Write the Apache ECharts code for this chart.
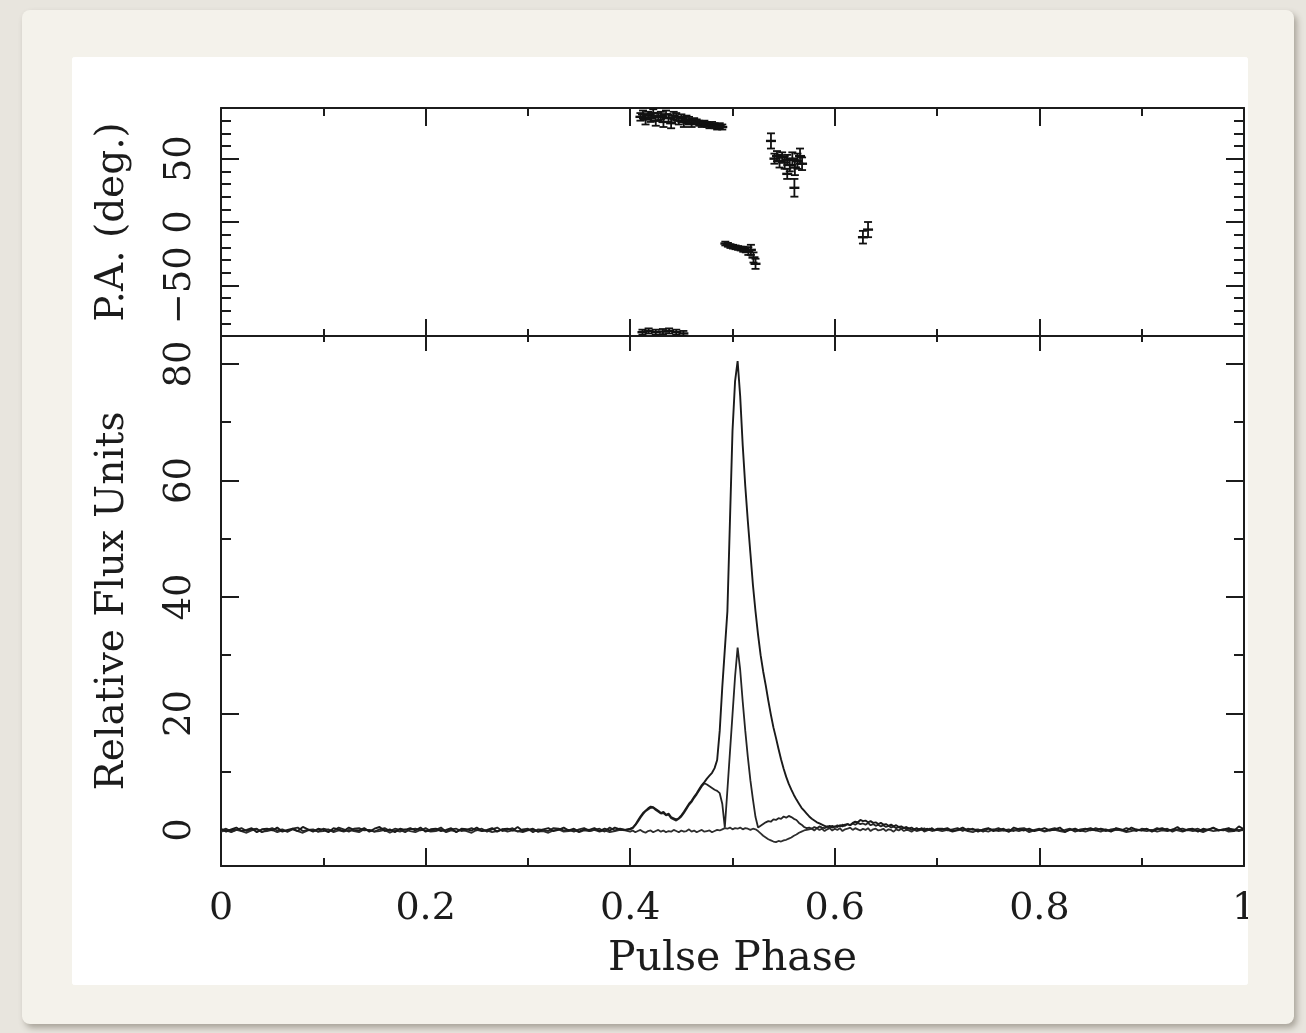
<!DOCTYPE html>
<html>
<head>
<meta charset="utf-8">
<script src="https://cdn.jsdelivr.net/npm/echarts@6/dist/echarts.min.js"></script>
<style>
  html, body { margin: 0; padding: 0; width: 1306px; height: 1033px; overflow: hidden; background: #e8e5de; }
  #card { position: absolute; left: 22px; top: 10px; width: 1272px; height: 1014px; background: #f4f2eb;
          border-radius: 8px; box-shadow: 3px 4px 6px rgba(90,85,70,0.45); }
  #panel { position: absolute; left: 72px; top: 57px; width: 1176px; height: 928px; background: #ffffff;
           border-radius: 3px; overflow: hidden; }
  #chart { width: 1176px; height: 928px; }
</style>
</head>
<body>
<div id="card"></div>
<div id="panel"><div id="chart"></div></div>
<script>
// ---------------- DATA ----------------
// Phase bins: off-pulse 0.000-0.395 (step 0.005), on-pulse 0.400-0.700 (step 0.0025), off-pulse 0.705-1.000 (step 0.005)
const xTickValues = [0, 0.2, 0.4, 0.6, 0.8, 1];
const paTicks = [-50, 0, 50];
const fluxTicks = [0, 20, 40, 60, 80];

// Total intensity (I)
const I_off1 = [0.2,-0.3,0.1,0.4,-0.2,0.0,0.3,-0.4,0.1,0.2,
  -0.1,0.4,-0.3,0.0,0.2,-0.2,0.5,0.1,-0.3,0.2,
  0.0,-0.4,0.3,0.1,-0.2,0.4,0.0,-0.1,0.3,-0.3,
  0.2,0.5,-0.2,0.1,-0.4,0.2,0.0,0.3,-0.1,0.4,
  -0.3,0.1,0.2,-0.2,0.0,0.3,-0.4,0.2,0.1,-0.1,
  0.4,-0.2,0.0,0.3,-0.3,0.1,0.2,-0.1,0.5,-0.2,
  0.0,0.2,-0.3,0.1,0.3,-0.2,0.0,0.4,-0.1,0.2,
  -0.3,0.1,0.0,0.3,-0.2,0.2,-0.1,0.4,0.1,0.0];
const I_on = [0.2,0.4,0.9,1.6,2.3,2.9,3.3,3.7,4.0,3.9,
  3.6,3.3,2.9,3.1,2.6,2.8,2.2,2.0,1.8,2.0,
  2.5,3.1,3.8,4.5,5.0,5.7,6.3,7.0,7.7,8.2,
  8.8,9.3,9.8,10.6,12.0,17.0,24.5,31.0,37.5,53.0,
  68.5,77.0,80.5,74.5,66.0,59.0,53.0,47.5,42.0,37.5,
  33.5,30.0,27.2,24.8,22.2,19.8,17.6,15.8,13.9,12.1,
  10.5,9.1,7.9,6.9,6.0,5.2,4.5,3.8,3.3,2.8,
  2.3,1.9,1.6,1.3,1.1,0.9,0.7,0.5,0.7,0.4,
  0.6,0.5,0.8,0.6,0.9,1.0,0.8,1.2,1.4,1.3,
  1.7,1.5,1.6,1.3,1.5,1.2,1.3,1.0,1.2,0.9,
  1.0,0.7,0.9,0.6,0.8,0.5,0.6,0.3,0.5,0.2,
  0.4,0.1,0.3,0.0,0.3,-0.1,0.2,0.0,0.3,-0.1,
  0.1];
const I_off2 = [0.1,0.3,-0.2,0.0,0.4,-0.1,0.2,-0.3,0.1,0.3,
  -0.2,0.0,0.2,-0.3,0.4,0.1,-0.1,0.2,-0.2,0.0,
  0.3,-0.1,0.1,0.4,-0.3,0.0,0.2,-0.2,0.1,0.3,
  -0.1,0.2,0.0,-0.3,0.3,0.1,-0.2,0.4,0.0,-0.1,
  0.2,-0.3,0.1,0.3,-0.1,0.0,0.5,-0.2,0.1,0.2,
  -0.3,0.2,0.0,0.4,-0.1,0.1,0.3,-0.2,0.6,0.1];

// Linear polarisation (L)
const L_off1 = [-0.1,0.2,-0.3,0.0,0.3,-0.2,0.1,0.2,-0.4,0.0,
  0.3,-0.1,0.1,-0.3,0.2,0.4,-0.2,0.0,0.1,-0.3,
  0.2,0.0,-0.2,0.4,0.1,-0.3,0.2,0.3,-0.1,0.0,
  -0.3,0.1,0.3,-0.2,0.2,0.0,-0.4,0.1,0.2,-0.1,
  0.3,-0.2,0.0,0.4,-0.3,0.1,0.2,-0.2,0.0,0.3,
  -0.1,0.2,-0.3,0.1,0.4,-0.2,0.0,0.3,-0.3,0.1,
  0.2,-0.4,0.1,0.0,-0.2,0.3,0.2,-0.1,0.0,-0.3,
  0.1,0.3,-0.2,0.0,0.2,-0.3,0.4,-0.1,0.2,0.0];
const L_on = [0.1,0.3,0.8,1.4,2.1,2.7,3.2,3.5,3.8,3.8,
  3.4,3.1,2.8,2.9,2.5,2.6,2.0,1.8,1.6,1.9,
  2.3,2.9,3.6,4.3,4.8,5.5,6.1,6.8,7.5,8.0,
  7.8,7.5,7.2,6.9,6.7,6.3,4.5,0.4,6.8,13.3,
  19.8,26.3,31.3,27.5,22.0,17.0,12.5,8.5,5.2,2.2,
  0.4,0.7,1.0,1.3,1.5,1.4,1.8,1.7,2.0,1.9,
  2.3,2.1,2.4,2.2,1.9,1.7,1.2,0.9,0.5,0.3,
  0.4,0.2,0.5,0.3,0.6,0.4,0.3,0.6,0.4,0.7,
  0.5,0.8,0.6,0.9,0.7,1.0,0.8,1.1,0.9,1.2,
  1.0,1.1,0.9,1.2,0.8,1.0,0.7,0.9,0.6,0.8,
  0.5,0.7,0.4,0.6,0.3,0.5,0.2,0.4,0.1,0.3,
  0.0,0.2,-0.1,0.2,0.0,0.3,-0.1,0.2,0.1,0.0,
  0.2];
const L_off2 = [0.2,-0.1,0.1,0.3,-0.2,0.2,0.0,0.1,-0.3,0.2,
  0.0,0.3,-0.1,0.1,-0.2,0.2,0.3,-0.1,0.0,0.2,
  -0.2,0.1,0.3,-0.1,0.0,0.2,-0.3,0.1,0.2,-0.1,
  0.3,0.0,-0.2,0.1,0.2,-0.1,0.3,0.0,-0.2,0.2,
  0.1,-0.1,0.3,0.0,0.2,-0.3,0.1,0.2,-0.1,0.0,
  0.2,-0.2,0.1,0.3,0.0,-0.1,0.2,0.1,-0.2,0.1];

// Circular polarisation (V)
const V_off1 = [-0.3,-0.1,-0.4,0.0,-0.2,-0.5,-0.1,0.1,-0.3,-0.2,
  0.0,-0.4,-0.1,-0.3,0.1,-0.2,-0.5,-0.1,0.0,-0.3,
  -0.2,0.1,-0.4,-0.1,-0.3,0.0,-0.2,-0.4,0.1,-0.1,
  -0.3,-0.2,0.0,-0.5,-0.1,-0.3,0.1,-0.2,-0.4,0.0,
  -0.1,-0.3,-0.2,0.1,-0.4,-0.1,-0.3,0.0,-0.2,-0.5,
  0.0,-0.2,-0.1,-0.4,-0.2,0.1,-0.3,-0.1,-0.2,-0.4,
  -0.1,0.0,-0.3,-0.2,-0.5,-0.1,0.1,-0.3,-0.2,0.0,
  -0.4,-0.1,-0.2,0.0,-0.3,-0.1,-0.4,-0.2,0.0,-0.1];
const V_on = [-0.3,-0.1,-0.4,-0.2,0.0,-0.3,-0.5,-0.2,-0.1,-0.4,
  -0.2,0.0,-0.3,-0.1,-0.4,-0.2,-0.3,0.0,-0.2,-0.4,
  -0.1,-0.3,-0.2,0.1,-0.3,-0.1,-0.4,-0.2,0.0,-0.3,
  -0.2,-0.1,-0.4,-0.2,0.0,-0.1,0.1,0.3,0.2,0.4,
  0.1,0.3,0.2,0.4,0.1,0.3,0.2,0.0,0.2,0.1,
  -0.2,-0.6,-1.0,-1.3,-1.6,-1.8,-2.0,-2.1,-1.9,-2.0,
  -1.8,-1.7,-1.5,-1.3,-1.0,-0.8,-0.5,-0.3,-0.1,0.0,
  0.1,0.2,-0.1,0.3,0.0,0.2,-0.2,0.1,0.3,-0.1,
  0.2,0.0,0.3,-0.2,0.1,0.2,0.4,0.0,0.3,0.1,
  -0.1,0.2,0.0,0.3,-0.2,0.1,0.2,-0.1,0.0,0.2,
  -0.2,0.1,0.0,-0.3,0.1,-0.1,0.2,-0.2,0.0,-0.1,
  -0.3,0.0,-0.2,-0.1,0.1,-0.3,-0.1,0.0,-0.2,-0.1,
  0.0];
const V_off2 = [-0.2,0.0,-0.3,-0.1,0.1,-0.2,-0.4,0.0,-0.1,-0.3,
  0.1,-0.2,-0.1,-0.3,0.0,-0.2,0.1,-0.4,-0.1,0.0,
  -0.3,-0.1,0.0,-0.2,-0.4,0.1,-0.2,-0.1,-0.3,0.0,
  -0.1,-0.3,0.1,-0.2,0.0,-0.1,-0.4,-0.2,0.1,-0.1,
  -0.2,0.0,-0.3,-0.1,-0.2,0.1,-0.1,-0.3,0.0,-0.2,
  -0.1,-0.4,0.0,-0.2,-0.1,0.1,-0.3,-0.2,0.0,-0.1];

// Position angle (deg) with 1-sigma errors
const paPhase = [0.410,0.4125,0.415,0.4175,0.420,0.4225,0.425,0.4275,0.430,0.4325,
  0.435,0.4375,0.440,0.4425,0.445,0.4475,0.450,0.4525,0.455,0.4575,
  0.460,0.4625,0.465,0.4675,0.470,0.4725,0.475,0.4775,0.480,0.4825,
  0.485,0.4875,0.490,
  0.412,0.418,0.425,0.432,0.438,0.445,0.452,
  0.493,0.4955,0.498,0.5005,0.503,0.5055,0.508,0.5105,0.513,0.5155,0.518,0.5205,0.5225,
  0.5376,0.541,0.5435,0.546,0.5485,0.551,0.5535,0.5535,0.556,0.5585,0.5605,0.561,0.5635,0.566,0.568,
  0.6275,0.6325];
const paValue = [83,85,81,84,82,86,80,83,84,79,
  85,82,78,84,83,80,82,79,81,80,
  78,80,79,78,77,78,77,76,77,76,
  75,76,75,
  -87,-86,-87,-86.5,-86,-87,-88,
  -17,-18,-19,-19.5,-20,-20.5,-21,-21.5,-22,-23,-22,-28,-33,
  64,50,52,48,51,47,49,38,45,50,27,43,48,52,46,
  -12,-6];
const paError = [3,3,4,3,3,3,4,3,3,4,
  3,3,4,3,3,3,3,4,3,3,
  3,2,2,2,2,2,2,2,2,2,
  2,2,2,
  2,2,2,2,2,2,2,
  1.5,1.5,1.5,1.5,1.5,1.5,1.5,2,2,3,4,4,4,
  6,4,4,5,4,5,4,4,5,5,7,6,6,6,5,
  5,6];

// -------------- BUILD --------------
function phasesFrom(start, step, n) { const a = []; for (let i = 0; i < n; i++) a.push(+(start + step * i).toFixed(5)); return a; }
const phOff1 = phasesFrom(0.0, 0.005, I_off1.length);
const phOn = phasesFrom(0.4, 0.0025, I_on.length);
const phOff2 = phasesFrom(0.705, 0.005, I_off2.length);
function pairs(a, b, c) {
  const out = [];
  phOff1.forEach((p, i) => out.push([p, a[i]]));
  phOn.forEach((p, i) => out.push([p, b[i]]));
  phOff2.forEach((p, i) => out.push([p, c[i]]));
  return out;
}
const dataI = pairs(I_off1, I_on, I_off2);
const dataL = pairs(L_off1, L_on, L_off2);
const dataV = pairs(V_off1, V_on, V_off2);
const dataPA = paPhase.map((p, i) => [p, paValue[i], paError[i]]);

const INK = '#1c1c1c';
const FONT = 'DejaVu Serif';
const lineAxis = { show: true, onZero: false, lineStyle: { color: INK, width: 2 } };
const noLine = { show: false, onZero: false };
function minorVals(lo, hi, step, majors) { const a = []; for (let v = lo; v <= hi + 1e-9; v += step) { const r = Math.round(v); if (!majors.includes(r)) a.push(r); } return a; }
const paMinor = minorVals(-80, 80, 10, paTicks);
const fluxMinor = [10, 30, 50, 70];

function xAx(grid, pos, majLen, minLen, labels) {
  return {
    type: 'value', gridIndex: grid, position: pos, min: 0, max: 1, interval: 0.2,
    axisLine: lineAxis,
    axisTick: { show: true, inside: true, length: majLen, lineStyle: { color: INK, width: 2 } },
    minorTick: { show: true, splitNumber: 2, length: minLen, lineStyle: { color: INK, width: 2 } },
    splitLine: { show: false }, minorSplitLine: { show: false },
    axisLabel: labels ? { show: true, fontFamily: FONT, fontSize: 38, color: INK, margin: 24,
      formatter: v => (Math.abs(v - 1) < 1e-9 ? '1' : (v === 0 ? '0' : v.toFixed(1))) } : { show: false },
    name: labels ? 'Pulse Phase' : '', nameLocation: 'middle', nameGap: 73,
    nameTextStyle: { fontFamily: FONT, fontSize: 41, color: INK }
  };
}
function yAx(grid, pos, min, max, ticks, len, withLine, labels, name, nameGap) {
  return {
    type: 'value', gridIndex: grid, position: pos, min: min, max: max,
    axisLine: withLine ? lineAxis : noLine,
    axisTick: { show: true, inside: true, length: len, customValues: ticks, lineStyle: { color: INK, width: 2 } },
    splitLine: { show: false },
    axisLabel: labels ? { show: true, customValues: ticks, rotate: 90, fontFamily: FONT, fontSize: 37, color: INK, margin: 22,
      formatter: v => (v < 0 ? '\u2212' + Math.abs(v) : String(v)) } : { show: false, customValues: ticks },
    name: name || '', nameLocation: 'middle', nameGap: nameGap || 0,
    nameTextStyle: { fontFamily: FONT, fontSize: 39, color: INK }
  };
}

const chart = echarts.init(document.getElementById('chart'), null, { renderer: 'canvas' });
chart.setOption({
  animation: false,
  backgroundColor: '#ffffff',
  grid: [
    { left: 149, top: 51, width: 1023, height: 228, outerBoundsMode: 'none', containLabel: false },
    { left: 149, top: 279, width: 1023, height: 530, outerBoundsMode: 'none', containLabel: false }
  ],
  xAxis: [
    xAx(0, 'bottom', 17, 7, false),
    xAx(0, 'top', 18, 8, false),
    xAx(1, 'top', 15, 6, false),
    xAx(1, 'bottom', 18, 8, true)
  ],
  yAxis: [
    yAx(0, 'left', -90, 90, paTicks, 18, true, true, 'P.A. (deg.)', 89),
    yAx(0, 'left', -90, 90, paMinor, 10, false, false),
    yAx(0, 'right', -90, 90, paTicks, 18, true, false),
    yAx(0, 'right', -90, 90, paMinor, 10, false, false),
    yAx(1, 'left', -6.2, 84.8, fluxTicks, 18, true, true, 'Relative Flux Units', 89),
    yAx(1, 'left', -6.2, 84.8, fluxMinor, 10, false, false),
    yAx(1, 'right', -6.2, 84.8, fluxTicks, 18, true, false),
    yAx(1, 'right', -6.2, 84.8, fluxMinor, 10, false, false)
  ],
  series: [
    { name: 'V', type: 'line', xAxisIndex: 3, yAxisIndex: 4, data: dataV, showSymbol: false, symbol: 'none',
      lineStyle: { color: '#2e2e2e', width: 1.8 }, z: 2 },
    { name: 'L', type: 'line', xAxisIndex: 3, yAxisIndex: 4, data: dataL, showSymbol: false, symbol: 'none',
      lineStyle: { color: '#242424', width: 1.8 }, z: 3 },
    { name: 'I', type: 'line', xAxisIndex: 3, yAxisIndex: 4, data: dataI, showSymbol: false, symbol: 'none',
      lineStyle: { color: '#1a1a1a', width: 1.9 }, z: 4 },
    { name: 'PA', type: 'custom', xAxisIndex: 0, yAxisIndex: 0, data: dataPA, clip: true,
      encode: { x: 0, y: 1 },
      renderItem: function (params, api) {
        const x = api.value(0), y = api.value(1), e = api.value(2);
        const p = api.coord([x, y]);
        const t = api.coord([x, y + e]);
        const b = api.coord([x, y - e]);
        const hw = 4;
        const st = { stroke: '#111', lineWidth: 1.8 };
        return { type: 'group', children: [
          { type: 'line', shape: { x1: p[0], y1: t[1], x2: p[0], y2: b[1] }, style: st },
          { type: 'line', shape: { x1: p[0] - hw, y1: t[1], x2: p[0] + hw, y2: t[1] }, style: st },
          { type: 'line', shape: { x1: p[0] - hw, y1: b[1], x2: p[0] + hw, y2: b[1] }, style: st },
          { type: 'line', shape: { x1: p[0] - hw - 1, y1: p[1], x2: p[0] + hw + 1, y2: p[1] }, style: { stroke: '#111', lineWidth: 2.4 } }
        ] };
      }
    }
  ]
});
</script>
</body>
</html>
